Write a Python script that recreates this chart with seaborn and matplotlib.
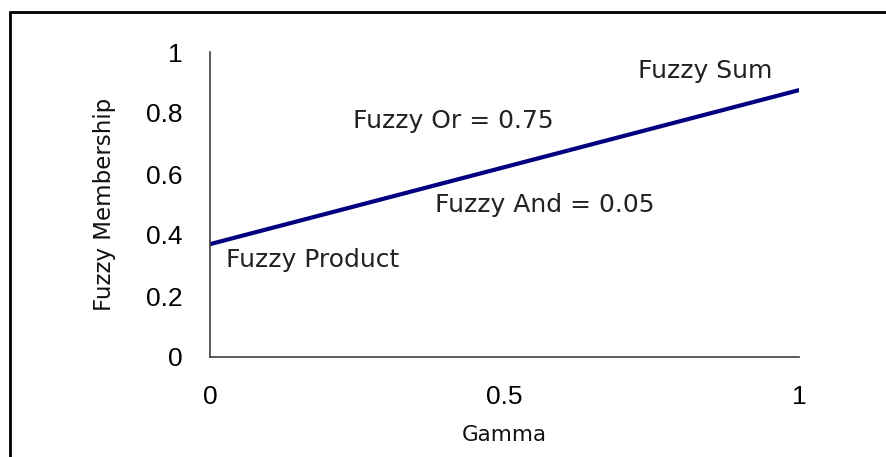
import matplotlib
matplotlib.use("Agg")
import matplotlib.pyplot as plt
import seaborn as sns
import pandas as pd
from matplotlib.lines import Line2D

gamma = [0.0, 1.0]
membership = [0.37, 0.875]
x_ticks = [0, 0.5, 1]
x_tick_labels = ["0", "0.5", "1"]
y_ticks = [0, 0.2, 0.4, 0.6, 0.8, 1.0]
y_tick_labels = ["0", "0.2", "0.4", "0.6", "0.8", "1"]
annotations = ["Fuzzy Sum", "Fuzzy Or = 0.75", "Fuzzy And = 0.05", "Fuzzy Product"]
ann_x = [0.727, 0.243, 0.382, 0.028]
ann_y = [0.915, 0.750, 0.476, 0.294]

sns.set_theme(style="white")
plt.rcParams['font.family'] = ['DejaVu Sans']

fig = plt.figure(figsize=(8.87, 4.57), dpi=100)
ax = fig.add_axes([210/887, 1-357/457, (799-210)/887, (357-52)/457])

df = pd.DataFrame({"Gamma": gamma, "Fuzzy Membership": membership})
sns.lineplot(data=df, x="Gamma", y="Fuzzy Membership", ax=ax, color="#000080", linewidth=3.0)

ax.set_xlim(0, 1)
ax.set_ylim(0, 1)
ax.set_xticks(x_ticks)
ax.set_xticklabels(x_tick_labels, fontfamily="Liberation Sans", fontsize=19)
ax.set_yticks(y_ticks)
ax.set_yticklabels(y_tick_labels, fontfamily="Liberation Sans", fontsize=19)
ax.tick_params(axis="both", direction="out", length=8, width=1.2, color="#404040", labelcolor="black")
ax.tick_params(axis="x", pad=12)
ax.tick_params(axis="y", pad=12)
for s in ["top", "right"]:
    ax.spines[s].set_visible(False)
for s in ["left", "bottom"]:
    ax.spines[s].set_color("#404040")
    ax.spines[s].set_linewidth(1.2)
ax.set_xlabel("Gamma", fontsize=15.5, labelpad=12, color="#111111")
ax.set_ylabel("Fuzzy Membership", fontsize=16.5, labelpad=21, color="#111111")

for t, x, y in zip(annotations, ann_x, ann_y):
    ax.text(x, y, t, fontsize=18, ha="left", va="baseline", color="#222222")

# outer frame (top and left edges visible in the image)
fig.add_artist(Line2D([10/887, 1.0], [1-12/457, 1-12/457], transform=fig.transFigure, color="black", linewidth=2))
fig.add_artist(Line2D([10/887, 10/887], [1-12/457, 0.0], transform=fig.transFigure, color="black", linewidth=2))

fig.savefig("out.png", dpi=100)
